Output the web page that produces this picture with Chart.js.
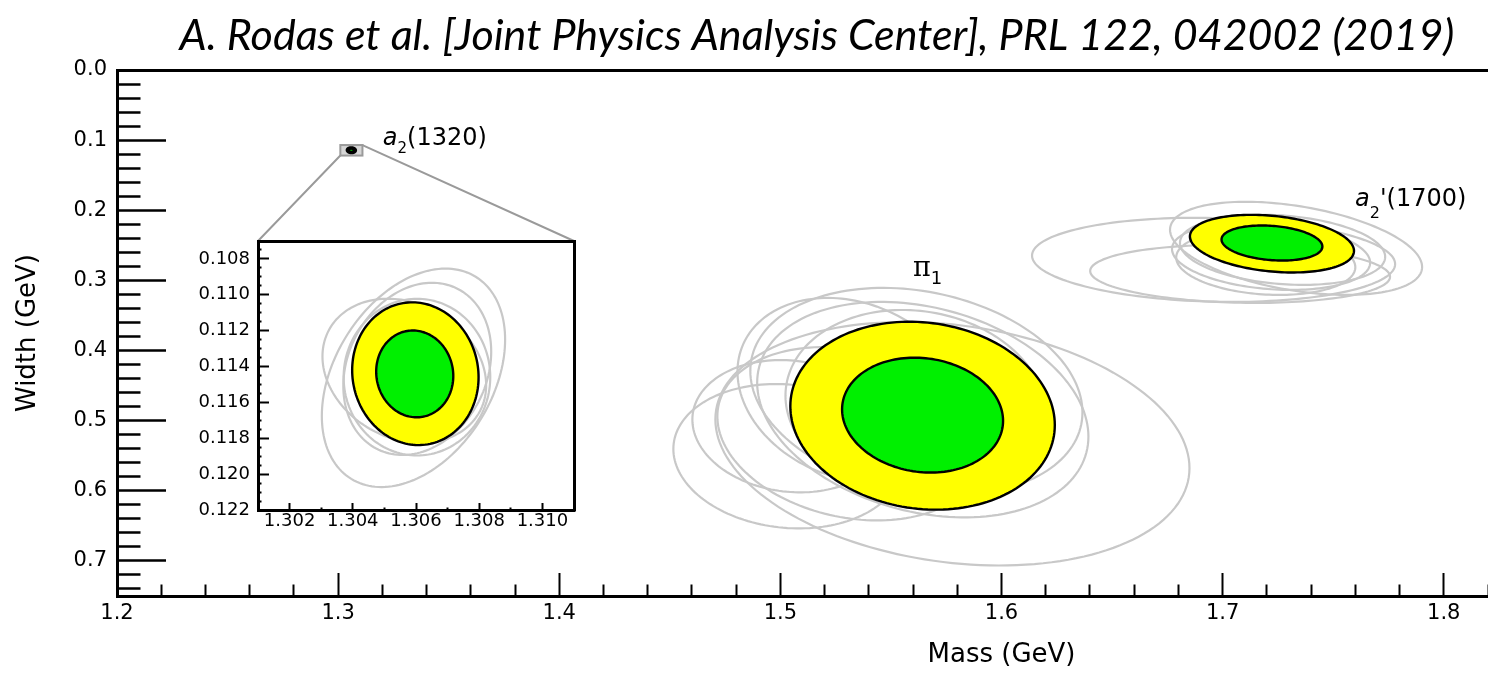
<!DOCTYPE html>
<html>
<head>
<meta charset="utf-8">
<script src="https://cdn.jsdelivr.net/npm/chart.js@4.4.1/dist/chart.umd.min.js"></script>
<style>
  html, body { margin: 0; padding: 0; background: #fff; }
  #wrap { position: relative; width: 1488px; height: 675px; overflow: hidden; }
  #main { position: absolute; left: 0; top: 0; }
  #inset { position: absolute; }
</style>
</head>
<body>
<div id="wrap">
  <canvas id="main" width="1488" height="675"></canvas>
  <canvas id="inset" width="394" height="309"></canvas>
</div>
<script>
// Contours are [mass, width, half-extent in mass, half-extent in width, correlation] (GeV)
// Best fit: outer (yellow) then inner (green) contour
const pi1Best = [
    [1.5643, 0.4929, 0.0598, 0.1340, 0.10],
    [1.5643, 0.4921, 0.0364, 0.0819, 0.10]
];
// systematic variations (grey)
const pi1Syst = [
    [1.5778, 0.5329, 0.1072, 0.1736, 0.20],
    [1.5644, 0.4843, 0.0749, 0.1536, 0.25],
    [1.5615, 0.4586, 0.0751, 0.1479, 0.20],
    [1.5317, 0.4564, 0.0511, 0.1314, 0.20],
    [1.5032, 0.5507, 0.0516, 0.1029, 0.10],
    [1.5045, 0.5079, 0.0443, 0.0943, 0.10],
    [1.5317, 0.5186, 0.0602, 0.1236, 0.20],
    [1.5611, 0.4779, 0.0588, 0.1357, 0.10]
];
const a2pBest = [
    [1.7223, 0.2476, 0.0371, 0.0411, 0.25],
    [1.7223, 0.2467, 0.0228, 0.0250, 0.20]
];
const a2pSyst = [
    [1.6959, 0.2707, 0.0821, 0.0600, 0.10],
    [1.7079, 0.2907, 0.0678, 0.0414, 0.10],
    [1.7332, 0.2543, 0.0570, 0.0664, 0.40],
    [1.7219, 0.2650, 0.0448, 0.0486, 0.20],
    [1.7195, 0.2743, 0.0405, 0.0464, 0.15],
    [1.7271, 0.2564, 0.0464, 0.0500, 0.20]
];
const a2Best = [
    [1.30598, 0.11440, 0.00200, 0.00398, 0.05],
    [1.30596, 0.11441, 0.00122, 0.00242, 0.05]
];
const a2Syst = [
    [1.30592, 0.11463, 0.00290, 0.00609, -0.35],
    [1.30604, 0.11413, 0.00234, 0.00480, -0.20],
    [1.30563, 0.11424, 0.00259, 0.00402, 0.20],
    [1.30603, 0.11459, 0.00232, 0.00437, 0.00]
];

// axis ranges
const massRange = [1.2, 1.82];
const widthRange = [0.0, 0.75];
const insetMassRange = [1.301, 1.311];
const insetWidthRange = [0.107, 0.122];

const titleText = 'A. Rodas et al. [Joint Physics Analysis Center], PRL 122, 042002 (2019)';
const FONT = "'DejaVu Sans', 'Liberation Sans', Arial, sans-serif";
const YELLOW = '#ffff00';
const GREEN = '#00f000';
const GREY = '#c8c8c8';

// inset placement on the page
const INSET = { left: 190, top: 231, width: 394, height: 309, axisW: 68, axisH: 30, pad: 10 };

Chart.defaults.font.family = FONT;
Chart.defaults.color = '#000';

const isMultiple = (v, step) => Math.abs(v / step - Math.round(v / step)) < 1e-6;

function traceEllipse(ctx, xs, ys, row) {
    const [m, w, dm, dw, rho] = row;
    const s = Math.sqrt(1 - rho * rho);
    ctx.beginPath();
    for (let i = 0; i <= 160; i++) {
        const t = i / 160 * 2 * Math.PI;
        const px = xs.getPixelForValue(m + dm * Math.cos(t));
        const py = ys.getPixelForValue(w + dw * (rho * Math.cos(t) + s * Math.sin(t)));
        if (i === 0) ctx.moveTo(px, py); else ctx.lineTo(px, py);
    }
    ctx.closePath();
}

const contourPlugin = {
    id: 'contours',
    afterDatasetsDraw(chart) {
        const { ctx, chartArea: a, scales: { x, y } } = chart;
        ctx.save();
        ctx.beginPath();
        ctx.rect(a.left, a.top, a.width, a.height);
        ctx.clip();
        chart.data.datasets.forEach(ds => {
            ds.rows.forEach((r, i) => {
                traceEllipse(ctx, x, y, r);
                if (ds.kind === 'syst') {
                    ctx.strokeStyle = GREY;
                    ctx.lineWidth = 2.2;
                } else {
                    ctx.fillStyle = i === 0 ? YELLOW : GREEN;
                    ctx.fill();
                    ctx.strokeStyle = '#000';
                    ctx.lineWidth = ds.edge || 2.4;
                }
                ctx.stroke();
            });
        });
        ctx.restore();
    }
};

// grey box on the main plot marking the zoomed region, with lines to the inset
const zoomPlugin = {
    id: 'zoomBox',
    beforeDatasetsDraw(chart) {
        const { ctx, scales: { x, y } } = chart;
        const x0 = x.getPixelForValue(insetMassRange[0]);
        const x1 = x.getPixelForValue(insetMassRange[1]);
        const y0 = y.getPixelForValue(insetWidthRange[0]);
        const y1 = y.getPixelForValue(insetWidthRange[1]);
        const fl = INSET.left + INSET.axisW;
        const fr = INSET.left + INSET.width - INSET.pad;
        const ft = INSET.top + INSET.pad;
        ctx.save();
        ctx.strokeStyle = '#9a9a9a';
        ctx.lineWidth = 2;
        ctx.beginPath();
        ctx.moveTo(x0, y1); ctx.lineTo(fl, ft);
        ctx.moveTo(x1, y0); ctx.lineTo(fr, ft);
        ctx.stroke();
        ctx.fillStyle = '#d6d6d6';
        ctx.fillRect(x0, y0, x1 - x0, y1 - y0);
        ctx.strokeRect(x0, y0, x1 - x0, y1 - y0);
        ctx.restore();
    }
};

function drawParts(ctx, x, y, parts) {
    let cx = x;
    parts.forEach(p => {
        ctx.font = p.font;
        ctx.fillText(p.text, cx, y + (p.dy || 0));
        cx += ctx.measureText(p.text).width;
    });
}

const textPlugin = {
    id: 'texts',
    afterDraw(chart) {
        const { ctx, scales: { x, y } } = chart;
        ctx.save();
        ctx.fillStyle = '#000';

        // title, sized to span the same width as the reference
        ctx.font = "italic 40px Lato, 'Open Sans', sans-serif";
        const size = 40 * 1275 / ctx.measureText(titleText).width;
        ctx.font = `italic ${size}px Lato, 'Open Sans', sans-serif`;
        ctx.textAlign = 'center';
        ctx.textBaseline = 'alphabetic';
        ctx.fillText(titleText, 817, 50);

        // x axis title
        ctx.font = `26px ${FONT}`;
        ctx.textBaseline = 'middle';
        ctx.fillText('Mass (GeV)', x.getPixelForValue(1.6), 655);

        // resonance labels
        ctx.textAlign = 'left';
        ctx.textBaseline = 'alphabetic';
        drawParts(ctx, x.getPixelForValue(1.3202), y.getPixelForValue(0.1064), [
            { text: 'a', font: `italic 24px ${FONT}` },
            { text: '2', font: `15px ${FONT}`, dy: 8 },
            { text: '(1320)', font: `24px ${FONT}` }
        ]);
        drawParts(ctx, x.getPixelForValue(1.5600), y.getPixelForValue(0.2936), [
            { text: 'π', font: "27px 'DejaVu Serif', serif" },
            { text: '1', font: `18px ${FONT}`, dy: 8 }
        ]);
        drawParts(ctx, x.getPixelForValue(1.7599), y.getPixelForValue(0.1946), [
            { text: 'a', font: `italic 24px ${FONT}` },
            { text: '2', font: `16px ${FONT}`, dy: 12 },
            { text: "'(1700)", font: `24px ${FONT}` }
        ]);
        ctx.restore();
    }
};

function makeDatasets(groups) {
    return groups.map(g => ({
        label: g.label,
        kind: g.kind,
        rows: g.rows,
        edge: g.edge,
        data: g.rows.map(r => ({ x: r[0], y: r[1] })),
        pointRadius: 0,
        showLine: false
    }));
}

// axis with inward major/minor ticks; minor ticks shortened via dash pattern
function tickAxis(o) {
    const inward = o.side === 'left';
    return {
        type: 'linear',
        position: o.side,
        min: o.range[0],
        max: o.range[1],
        reverse: !!o.reverse,
        afterFit: s => {
            if (inward) s.width = o.size; else s.height = o.size;
            // labels may overhang; don't let the tick padding shrink the plot area
            s.paddingLeft = s.paddingRight = s.paddingTop = s.paddingBottom = 0;
        },
        border: { display: true, color: '#000', width: o.border },
        grid: {
            drawOnChartArea: false,
            drawTicks: true,
            tickLength: -o.major,
            tickWidth: o.tickWidth,
            tickColor: '#000',
            tickBorderDash: c => {
                if (isMultiple(c.tick.value, o.labelStep)) return [];
                return inward ? [0, o.major - o.minor + 1.5, o.minor, 1000] : [o.minor + 1.5, 1000];
            }
        },
        ticks: {
            stepSize: o.step,
            autoSkip: false,
            maxRotation: 0,
            minRotation: 0,
            includeBounds: false,
            padding: o.padding,
            color: '#000',
            font: { family: FONT, size: o.font },
            callback: v => isMultiple(v, o.labelStep) ? v.toFixed(o.digits) : ''
        },
        title: o.title || { display: false }
    };
}

function frameAxis(side) {
    return {
        type: 'linear',
        position: side,
        afterFit: s => {
            if (side === 'top') s.height = 0; else s.width = 0;
            s.paddingLeft = s.paddingRight = s.paddingTop = s.paddingBottom = 0;
        },
        border: { display: true, color: '#000', width: 3 },
        grid: { display: false },
        ticks: { display: false }
    };
}

new Chart(document.getElementById('main'), {
    type: 'scatter',
    data: {
        datasets: makeDatasets([
            { label: 'pi1 systematics', kind: 'syst', rows: pi1Syst },
            { label: 'a2(1700) systematics', kind: 'syst', rows: a2pSyst },
            { label: 'pi1', kind: 'best', rows: pi1Best },
            { label: 'a2(1700)', kind: 'best', rows: a2pBest },
            { label: 'a2(1320)', kind: 'best', rows: a2Best, edge: 2.6 }
        ])
    },
    options: {
        responsive: false,
        animation: false,
        events: [],
        layout: { padding: { top: 70, right: 0, bottom: 0, left: 0 } },
        plugins: { legend: { display: false }, tooltip: { enabled: false } },
        scales: {
            x: tickAxis({ side: 'bottom', range: massRange, step: 0.02, labelStep: 0.1, digits: 1,
                major: 23, minor: 12, tickWidth: 2, border: 3, size: 79, padding: 28, font: 21 }),
            y: tickAxis({ side: 'left', range: widthRange, reverse: true, step: 0.02, labelStep: 0.1, digits: 1,
                major: 49, minor: 25, tickWidth: 2.5, border: 3, size: 117, padding: 59, font: 21,
                title: { display: true, text: 'Width (GeV)', color: '#000', font: { family: FONT, size: 26 }, padding: { top: 13, bottom: 0 } } }),
            xTop: frameAxis('top')
        }
    },
    plugins: [zoomPlugin, contourPlugin, textPlugin]
});

// inset: zoom on a2(1320)
const insetCanvas = document.getElementById('inset');
insetCanvas.style.left = INSET.left + 'px';
insetCanvas.style.top = INSET.top + 'px';

new Chart(insetCanvas, {
    type: 'scatter',
    data: {
        datasets: makeDatasets([
            { label: 'a2(1320) systematics', kind: 'syst', rows: a2Syst },
            { label: 'a2(1320)', kind: 'best', rows: a2Best }
        ])
    },
    options: {
        responsive: false,
        animation: false,
        events: [],
        layout: { padding: { top: INSET.pad, right: INSET.pad, bottom: 0, left: 0 } },
        plugins: { legend: { display: false }, tooltip: { enabled: false } },
        scales: {
            x: tickAxis({ side: 'bottom', range: insetMassRange, step: 0.001, labelStep: 0.002, digits: 3,
                major: 7, minor: 3, tickWidth: 2, border: 3, size: INSET.axisH, padding: 8, font: 18 }),
            y: tickAxis({ side: 'left', range: insetWidthRange, reverse: true, step: 0.0005, labelStep: 0.002, digits: 3,
                major: 11, minor: 5, tickWidth: 2, border: 3, size: INSET.axisW, padding: 19, font: 18 }),
            xTop: frameAxis('top'),
            yRight: frameAxis('right')
        }
    },
    plugins: [contourPlugin]
});
</script>
</body>
</html>
